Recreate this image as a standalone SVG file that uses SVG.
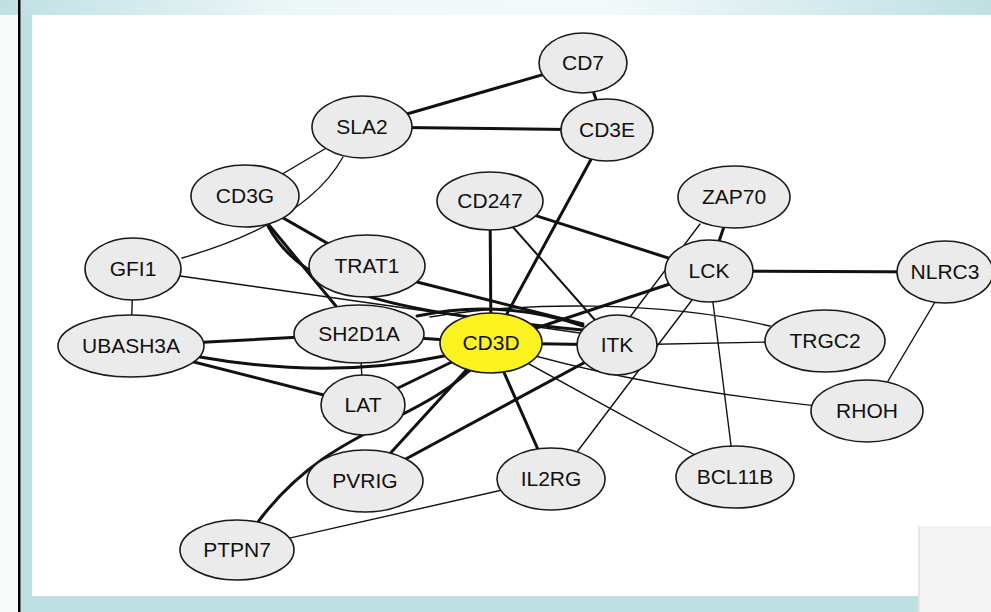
<svg xmlns="http://www.w3.org/2000/svg" width="991" height="612" viewBox="0 0 991 612">
<defs>
<linearGradient id="topband" x1="0" y1="0" x2="1" y2="0">
<stop offset="0" stop-color="#bfe0e3"/>
<stop offset="0.3" stop-color="#eef7f8"/>
<stop offset="0.6" stop-color="#f4fafb"/>
<stop offset="1" stop-color="#bfe0e3"/>
</linearGradient>
<style>
.n ellipse{fill:#ebebeb;stroke:#1a1a1a;stroke-width:1.6}
#n-CD3D ellipse{fill:#fbf31f}
.n text{font-family:"Liberation Sans",Arial,sans-serif;font-size:21px;fill:#111;text-anchor:middle}
#edges path,#edges line{stroke:#111;fill:none;stroke-linecap:round}
.k{stroke-width:3}
.m{stroke-width:2}
.t{stroke-width:1.4}
</style>
</defs>
<!-- background frame -->
<rect x="0" y="0" width="991" height="612" fill="#bfe0e3"/>
<rect x="0" y="0" width="991" height="15" fill="url(#topband)"/>
<rect x="0" y="15" width="18" height="597" fill="#f9fbfb"/>
<rect x="18" y="0" width="2.5" height="612" fill="#000"/>
<rect x="32" y="15" width="959" height="581" fill="#ffffff"/>
<rect x="918" y="526" width="2" height="86" fill="#e6e6e6"/>
<rect x="920" y="526" width="71" height="86" fill="#f4f4f4"/>

<g id="edges">
<line class="k" x1="583" y1="63" x2="362" y2="127"/>
<line class="k" x1="583" y1="63" x2="607" y2="130"/>
<line class="k" x1="362" y1="127" x2="607" y2="130"/>
<line class="k" x1="607" y1="130" x2="491" y2="343"/>
<line class="k" x1="490" y1="201" x2="491" y2="343"/>
<line class="k" x1="490" y1="201" x2="709" y2="271"/>
<line class="m" x1="490" y1="201" x2="617" y2="345"/>
<line class="k" x1="734" y1="197" x2="709" y2="271"/>
<line class="t" x1="700" y1="224" x2="630" y2="317"/>
<line class="k" x1="709" y1="271" x2="945" y2="272"/>
<line class="k" x1="709" y1="271" x2="491" y2="343"/>
<line class="t" x1="692" y1="300" x2="577" y2="452"/>
<line class="t" x1="709" y1="271" x2="735" y2="477"/>
<line class="t" x1="935" y1="302" x2="888" y2="381"/>
<line class="t" x1="617" y1="345" x2="825" y2="341"/>
<path class="t" d="M430,317 C520,302 660,300 770,326"/>
<line class="k" x1="491" y1="343" x2="617" y2="345"/>
<line class="k" x1="417" y1="282" x2="583" y2="324"/>
<line class="t" x1="180" y1="276" x2="580" y2="333"/>
<line class="t" x1="133" y1="269" x2="131" y2="346"/>
<path class="t" d="M343,157 Q307,222 182,258"/>
<line class="t" x1="362" y1="127" x2="245" y2="196"/>
<line class="k" x1="245" y1="196" x2="367" y2="266"/>
<line class="k" x1="245" y1="196" x2="359" y2="334"/>
<path class="k" d="M268,226 C305,295 400,312 583,330"/>
<path class="k" d="M417,316 Q500,298 583,326"/>
<line class="k" x1="359" y1="334" x2="491" y2="343"/>
<line class="k" x1="131" y1="346" x2="359" y2="334"/>
<path class="k" d="M200,357 Q330,380 444,356"/>
<line class="k" x1="131" y1="346" x2="363" y2="405"/>
<line class="k" x1="363" y1="405" x2="491" y2="343"/>
<line class="t" x1="360" y1="334" x2="363" y2="405"/>
<line class="k" x1="491" y1="343" x2="365" y2="481"/>
<path class="k" d="M478,362 C420,425 330,425 258,522"/>
<line class="k" x1="617" y1="345" x2="365" y2="481"/>
<line class="k" x1="491" y1="343" x2="551" y2="479"/>
<line class="t" x1="491" y1="343" x2="735" y2="477"/>
<path class="t" d="M491,343 Q640,390 867,411"/>
<line class="t" x1="237" y1="550" x2="551" y2="479"/>
</g>

<g id="n-CD7" class="n"><ellipse cx="583" cy="63" rx="44" ry="30"/><text x="583" y="70">CD7</text></g>
<g id="n-SLA2" class="n"><ellipse cx="362" cy="127" rx="50" ry="31"/><text x="362" y="134">SLA2</text></g>
<g id="n-CD3E" class="n"><ellipse cx="607" cy="130" rx="46" ry="31"/><text x="607" y="137">CD3E</text></g>
<g id="n-CD3G" class="n"><ellipse cx="245" cy="196" rx="54" ry="31"/><text x="245" y="203">CD3G</text></g>
<g id="n-CD247" class="n"><ellipse cx="490" cy="201" rx="53" ry="29"/><text x="490" y="208">CD247</text></g>
<g id="n-ZAP70" class="n"><ellipse cx="734" cy="197" rx="56" ry="31"/><text x="734" y="204">ZAP70</text></g>
<g id="n-GFI1" class="n"><ellipse cx="133" cy="269" rx="48" ry="31"/><text x="133" y="276">GFI1</text></g>
<g id="n-TRAT1" class="n"><ellipse cx="367" cy="266" rx="58" ry="31"/><text x="367" y="273">TRAT1</text></g>
<g id="n-LCK" class="n"><ellipse cx="709" cy="271" rx="44" ry="31"/><text x="709" y="278">LCK</text></g>
<g id="n-NLRC3" class="n"><ellipse cx="945" cy="272" rx="48" ry="31"/><text x="945" y="279">NLRC3</text></g>
<g id="n-UBASH3A" class="n"><ellipse cx="131" cy="346" rx="73" ry="31"/><text x="131" y="353">UBASH3A</text></g>
<g id="n-SH2D1A" class="n"><ellipse cx="359" cy="334" rx="65" ry="29"/><text x="359" y="341">SH2D1A</text></g>
<g id="n-CD3D" class="n"><ellipse cx="491" cy="343" rx="51" ry="30"/><text x="491" y="350">CD3D</text></g>
<g id="n-ITK" class="n"><ellipse cx="617" cy="345" rx="40" ry="30"/><text x="617" y="352">ITK</text></g>
<g id="n-TRGC2" class="n"><ellipse cx="825" cy="341" rx="60" ry="31"/><text x="825" y="348">TRGC2</text></g>
<g id="n-LAT" class="n"><ellipse cx="363" cy="405" rx="42" ry="30"/><text x="363" y="412">LAT</text></g>
<g id="n-RHOH" class="n"><ellipse cx="867" cy="411" rx="56" ry="31"/><text x="867" y="418">RHOH</text></g>
<g id="n-PVRIG" class="n"><ellipse cx="365" cy="481" rx="58" ry="31"/><text x="365" y="488">PVRIG</text></g>
<g id="n-IL2RG" class="n"><ellipse cx="551" cy="479" rx="54" ry="31"/><text x="551" y="486">IL2RG</text></g>
<g id="n-BCL11B" class="n"><ellipse cx="735" cy="477" rx="59" ry="31"/><text x="735" y="484">BCL11B</text></g>
<g id="n-PTPN7" class="n"><ellipse cx="237" cy="550" rx="57" ry="30"/><text x="237" y="557">PTPN7</text></g>
</svg>
